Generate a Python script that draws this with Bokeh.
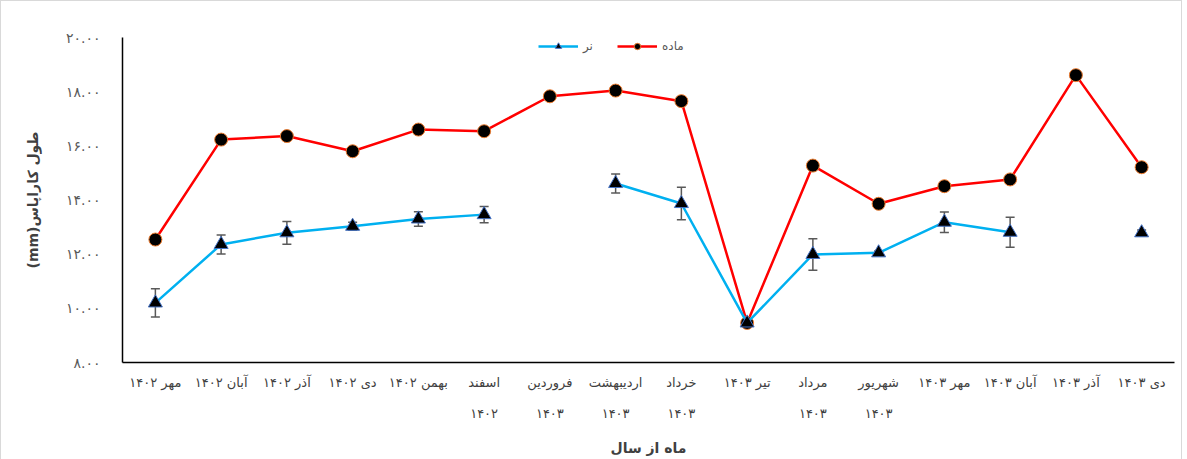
import math
from bokeh.plotting import figure
from bokeh.models import (ColumnDataSource, FixedTicker, Legend, LegendItem,
                          Whisker, TeeHead, Range1d)
from bokeh.embed import file_html
from bokeh.resources import INLINE

# ---- data ----
months = ["مهر ۱۴۰۲", "آبان ۱۴۰۲", "آذر ۱۴۰۲", "دی ۱۴۰۲", "بهمن ۱۴۰۲",
          "اسفند\n۱۴۰۲", "فروردین\n۱۴۰۳", "اردیبهشت\n۱۴۰۳", "خرداد\n۱۴۰۳",
          "تیر ۱۴۰۳", "مرداد\n۱۴۰۳", "شهریور\n۱۴۰۳", "مهر ۱۴۰۳", "آبان ۱۴۰۳",
          "آذر ۱۴۰۳", "دی ۱۴۰۳"]
nan = float("nan")
female = [12.54, 16.23, 16.36, 15.80, 16.60, 16.54, 17.83, 18.04, 17.65,
          9.46, 15.27, 13.86, 14.51, 14.76, 18.61, 15.21]
male = [10.20, 12.36, 12.79, 13.03, 13.30, 13.46, nan, 14.61, 13.87,
        9.46, 11.99, 12.05, 13.18, 12.81, nan, 12.79]
male_err = [0.52, 0.35, 0.42, 0.15, 0.27, 0.30, nan, 0.35, 0.60,
            0.08, 0.58, 0.07, 0.38, 0.55, nan, 0.10]
y_ticks = [8, 10, 12, 14, 16, 18, 20]
y_tick_labels = ["۸.۰۰", "۱۰.۰۰", "۱۲.۰۰", "۱۴.۰۰", "۱۶.۰۰", "۱۸.۰۰", "۲۰.۰۰"]
label_female = "ماده"
label_male = "نر"
x_title = "ماه از سال"
y_title = "\u202bطول کاراپاس(mm)\u202c"

xs = list(range(1, len(months) + 1))
src = ColumnDataSource(dict(
    x=xs, female=female, male=male,
    upper=[m + e for m, e in zip(male, male_err)],
    lower=[m - e for m, e in zip(male, male_err)],
))

FONT = "DejaVu Sans"

p = figure(width=1180, height=455, output_backend="svg", toolbar_location=None,
           x_range=Range1d(0.5, len(months) + 0.5), y_range=Range1d(8, 20),
           min_border_left=121, min_border_right=7, min_border_top=36,
           min_border_bottom=94, frame_width=1052, frame_height=325)
p.styles = {"border": "1px solid #d9d9d9"}
p.outline_line_color = None
p.xgrid.visible = False
p.ygrid.visible = False

# axes
p.yaxis.ticker = FixedTicker(ticks=y_ticks)
p.yaxis.major_label_overrides = {t: l for t, l in zip(y_ticks, y_tick_labels)}
p.xaxis.ticker = FixedTicker(ticks=xs)
p.xaxis.major_label_overrides = {x: l for x, l in zip(xs, months)}
for ax in (p.xaxis, p.yaxis):
    ax.axis_line_color = "black"
    ax.axis_line_width = 1.5
    ax.major_tick_line_color = None
    ax.minor_tick_line_color = None
    ax.major_label_text_font = FONT
    ax.major_label_text_font_size = "12px"
    ax.major_label_text_color = "#404040"
    ax.axis_label_text_font = FONT
    ax.axis_label_text_font_size = "14px"
    ax.axis_label_text_font_style = "bold"
    ax.axis_label_text_color = "#404040"
p.yaxis.major_label_standoff = 16
p.yaxis.major_label_text_font_size = "14px"
p.yaxis.major_label_text_color = "#595959"
p.xaxis.major_label_text_font_size = "13px"
p.xaxis.major_label_text_line_height = 2.1
p.xaxis.major_label_standoff = 6
p.xaxis.axis_label = x_title
p.yaxis.axis_label = y_title
p.yaxis.axis_label_standoff = 22
p.xaxis.axis_label_standoff = 16

# female series
rl = p.line("x", "female", source=src, line_color="#FF0000", line_width=2.5)
rs = p.scatter("x", "female", source=src, marker="circle", size=13,
               fill_color="black", line_color="#ED7D31", line_width=1)

# male series
bl = p.line("x", "male", source=src, line_color="#00B0F0", line_width=2.5)
wh = Whisker(base="x", upper="upper", lower="lower", source=src,
             line_color="#595959", line_width=1.5,
             upper_head=TeeHead(size=9, line_color="#595959", line_width=1.5),
             lower_head=TeeHead(size=9, line_color="#595959", line_width=1.5))
p.add_layout(wh)
bs = p.scatter("x", "male", source=src, marker="triangle", size=14,
               fill_color="black", line_color="#4472C4", line_width=1)

legend = Legend(items=[LegendItem(label=label_male, renderers=[bl, bs]),
                       LegendItem(label=label_female, renderers=[rl, rs])],
                orientation="horizontal", location=(416, 308),
                border_line_color=None, background_fill_alpha=0,
                label_text_font=FONT, label_text_font_size="12px",
                label_text_color="#595959", glyph_width=40, glyph_height=16,
                label_height=16, spacing=14, padding=0, margin=0)
p.add_layout(legend)

open("out.html", "w").write(file_html(p, INLINE))
